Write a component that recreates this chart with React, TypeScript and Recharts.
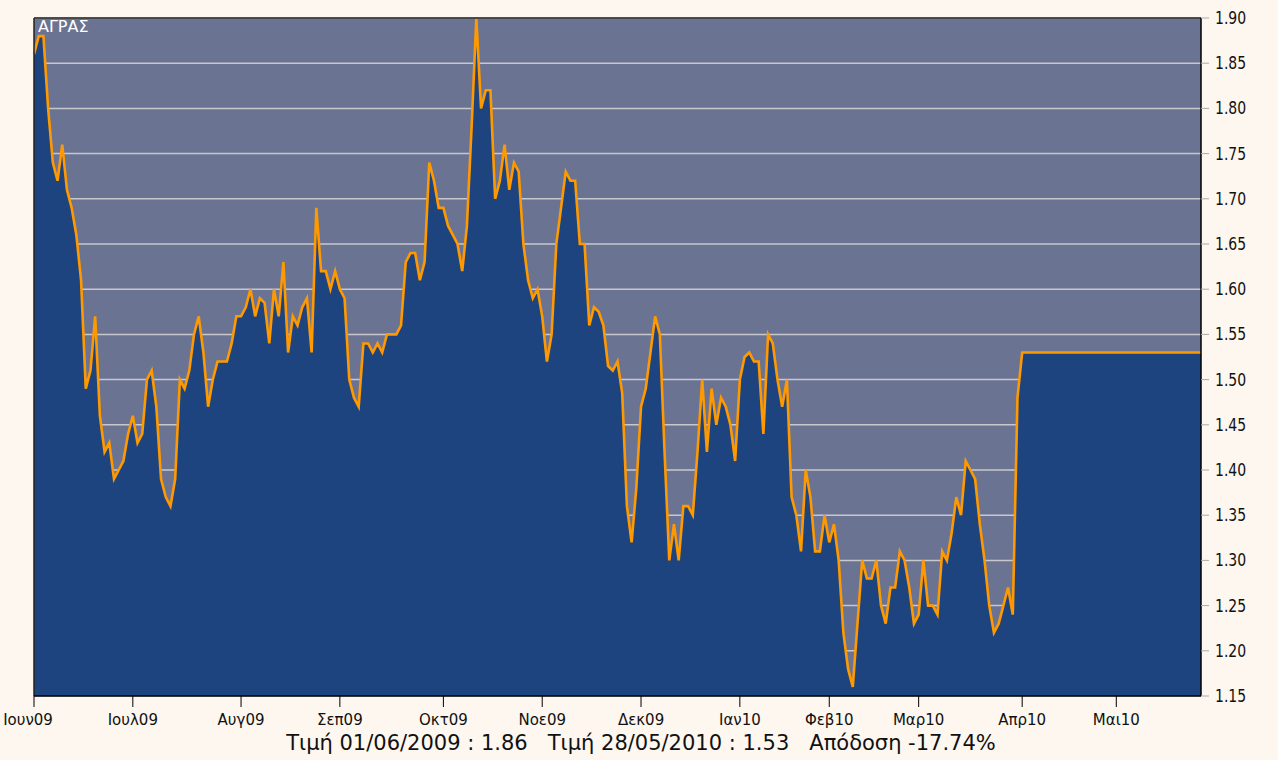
import React from 'react';
import { AreaChart, Area, XAxis, YAxis, CartesianGrid, ReferenceLine } from 'recharts';

const monthLabels = ['Ιουν09', 'Ιουλ09', 'Αυγ09', 'Σεπ09', 'Οκτ09', 'Νοε09', 'Δεκ09', 'Ιαν10', 'Φεβ10', 'Μαρ10', 'Απρ10', 'Μαι10'];
const monthStartDay = [0, 21, 44, 65, 87, 108, 129, 150, 169, 188, 210, 230];
const priceTicks = [1.15, 1.2, 1.25, 1.3, 1.35, 1.4, 1.45, 1.5, 1.55, 1.6, 1.65, 1.7, 1.75, 1.8, 1.85, 1.9];

const prices = [
  1.86, 1.88, 1.88, 1.80, 1.74, 1.72, 1.76, 1.71, 1.69, 1.66,
  1.61, 1.49, 1.51, 1.57, 1.46, 1.42, 1.43, 1.39, 1.40, 1.41,
  1.44, 1.46, 1.43, 1.44, 1.50, 1.51, 1.47, 1.39, 1.37, 1.36,
  1.39, 1.50, 1.49, 1.51, 1.55, 1.57, 1.53, 1.47, 1.50, 1.52,
  1.52, 1.52, 1.54, 1.57, 1.57, 1.58, 1.60, 1.57, 1.59, 1.585,
  1.54, 1.60, 1.57, 1.63, 1.53, 1.57, 1.56, 1.58, 1.59, 1.53,
  1.69, 1.62, 1.62, 1.60, 1.62, 1.60, 1.59, 1.50, 1.48, 1.47,
  1.54, 1.54, 1.53, 1.54, 1.53, 1.55, 1.55, 1.55, 1.56, 1.63,
  1.64, 1.64, 1.61, 1.63, 1.74, 1.72, 1.69, 1.69, 1.67, 1.66,
  1.65, 1.62, 1.67, 1.78, 1.90, 1.80, 1.82, 1.82, 1.70, 1.72,
  1.76, 1.71, 1.74, 1.73, 1.65, 1.61, 1.59, 1.60, 1.57, 1.52,
  1.55, 1.65, 1.69, 1.73, 1.72, 1.72, 1.65, 1.65, 1.56, 1.58,
  1.575, 1.56, 1.515, 1.51, 1.52, 1.485, 1.36, 1.32, 1.38, 1.47,
  1.49, 1.53, 1.57, 1.55, 1.42, 1.30, 1.34, 1.30, 1.36, 1.36,
  1.35, 1.42, 1.50, 1.42, 1.49, 1.45, 1.48, 1.47, 1.45, 1.41,
  1.50, 1.525, 1.53, 1.52, 1.52, 1.44, 1.55, 1.54, 1.50, 1.47,
  1.50, 1.37, 1.35, 1.31, 1.40, 1.37, 1.31, 1.31, 1.35, 1.32,
  1.34, 1.30, 1.22, 1.18, 1.16, 1.23, 1.30, 1.28, 1.28, 1.30,
  1.25, 1.23, 1.27, 1.27, 1.31, 1.30, 1.27, 1.23, 1.24, 1.30,
  1.25, 1.25, 1.24, 1.31, 1.30, 1.33, 1.37, 1.35, 1.41, 1.40,
  1.39, 1.34, 1.30, 1.25, 1.22, 1.23, 1.25, 1.27, 1.24, 1.48,
  1.53, 1.53, 1.53, 1.53, 1.53, 1.53, 1.53, 1.53, 1.53, 1.53,
  1.53, 1.53, 1.53, 1.53, 1.53, 1.53, 1.53, 1.53, 1.53, 1.53,
  1.53, 1.53, 1.53, 1.53, 1.53, 1.53, 1.53, 1.53, 1.53, 1.53,
  1.53, 1.53, 1.53, 1.53, 1.53, 1.53, 1.53, 1.53, 1.53,
];

const seriesName = 'ΑΓΡΑΣ';
const summaryText = 'Τιμή 01/06/2009 : 1.86   Τιμή 28/05/2010 : 1.53   Απόδοση -17.74%';

const data = prices.map((p, i) => ({ day: i, price: p }));
const lastDay = prices.length - 1;

const monthFmt = (v: number) => {
  const k = monthStartDay.indexOf(v);
  return k >= 0 ? monthLabels[k] : '';
};

const XTick = (props: any) => {
  const { x, y, payload } = props;
  const dx = payload.value === 0 ? -6 : 0;
  return (
    <text x={x + dx} y={y + 16} textAnchor="middle" fill="#111" fontFamily="DejaVu Sans" fontSize={15}>
      {monthFmt(payload.value)}
    </text>
  );
};

const YTick = (props: any) => {
  const { x, y, payload } = props;
  return (
    <text
      transform={`translate(${x},${y + 6}) scale(1,1.25)`}
      x={0}
      y={0}
      textAnchor="start"
      fill="#111"
      fontFamily="DejaVu Sans"
      fontSize={14}
    >
      {Number(payload.value).toFixed(2)}
    </text>
  );
};

export default function App() {
  return (
    <div style={{ position: 'absolute', left: 0, top: 0, width: 1278, height: 760, background: '#fdf7f0', overflow: 'hidden' }}>
      <AreaChart width={1278} height={760} data={data} margin={{ top: 18, right: 0, left: 34, bottom: 0 }}>
        <CartesianGrid horizontal vertical={false} fill="#6b7393" fillOpacity={1} stroke="#c8c8cc" strokeWidth={1.5} />
        <XAxis
          dataKey="day"
          type="number"
          domain={[0, lastDay]}
          ticks={monthStartDay}
          tick={<XTick />}
          tickLine={{ stroke: '#000' }}
          tickSize={11}
          axisLine={{ stroke: '#000', strokeWidth: 1.5 }}
          height={64}
          interval={0}
        />
        <YAxis
          orientation="right"
          domain={[1.15, 1.9]}
          ticks={priceTicks}
          tick={<YTick />}
          tickLine={{ stroke: '#aaa' }}
          tickSize={8}
          tickMargin={6}
          axisLine={{ stroke: '#000', strokeWidth: 1.5 }}
          width={77}
          interval={0}
          allowDataOverflow
        />
        <Area
          type="linear"
          dataKey="price"
          stroke="#ff9900"
          strokeWidth={2.6}
          fill="#1e4480"
          fillOpacity={1}
          baseValue={1.15}
          isAnimationActive={false}
          dot={false}
          activeDot={false}
        />
        <ReferenceLine y={1.9} stroke="#222" strokeWidth={1.5} />
        <ReferenceLine x={0} stroke="#222" strokeWidth={1.5} />
      </AreaChart>
      <div style={{ position: 'absolute', left: 38, top: 17, color: '#fff', fontFamily: 'DejaVu Sans', fontSize: 16 }}>{seriesName}</div>
      <div
        style={{
          position: 'absolute',
          left: 0,
          width: 1282,
          top: 731,
          textAlign: 'center',
          whiteSpace: 'pre',
          color: '#111',
          fontFamily: 'DejaVu Sans',
          fontSize: 21,
        }}
      >
        {summaryText}
      </div>
    </div>
  );
}
